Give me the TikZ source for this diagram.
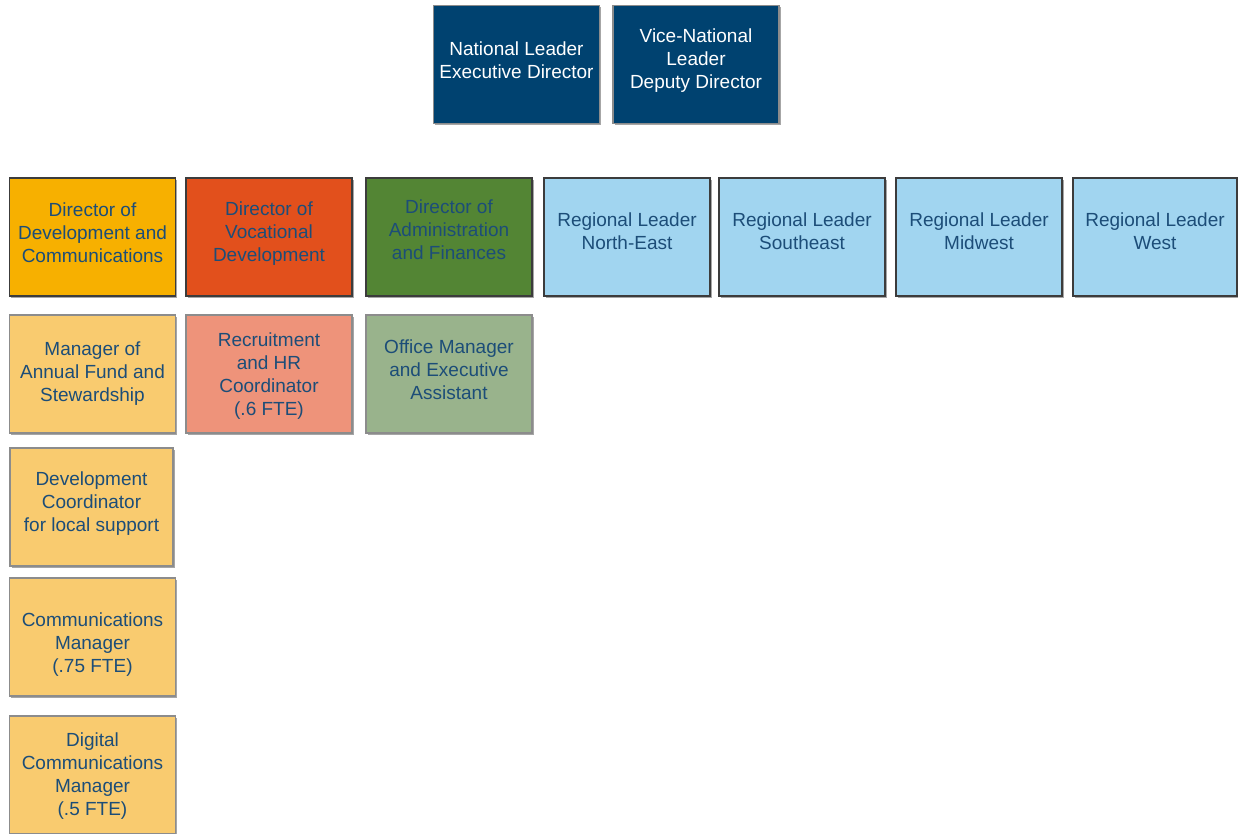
\documentclass[tikz,border=0pt]{standalone}
\usepackage{fontspec}
\setmainfont{Liberation Sans}
\usetikzlibrary{shadows}
\definecolor{navy}{HTML}{004270}
\definecolor{gold}{HTML}{F7B000}
\definecolor{rust}{HTML}{E2501C}
\definecolor{leaf}{HTML}{538534}
\definecolor{sky}{HTML}{A1D5F0}
\definecolor{paleyellow}{HTML}{F9CB6F}
\definecolor{salmon}{HTML}{EE937A}
\definecolor{sage}{HTML}{99B38C}
\definecolor{txtblue}{HTML}{1C4D78}
\definecolor{edgedark}{HTML}{3C3C3C}
\definecolor{edgelight}{HTML}{8C8C8C}
\tikzset{
  orgbox/.style={draw=edgedark, line width=1.3pt, minimum width=166pt, minimum height=118pt,
    inner sep=0pt,
    drop shadow={shadow xshift=1.5pt, shadow yshift=-1.5pt, opacity=0.35, fill=black}},
  topbox/.style={orgbox, fill=navy, draw=edgelight},
  subbox/.style={orgbox, draw=edgelight},
  lbl/.style={align=center, inner sep=0pt, text=txtblue, font=\fontsize{19}{23}\selectfont},
  toplbl/.style={lbl, text=white}
}
\begin{document}
\begin{tikzpicture}[x=1pt, y=-1pt]
\clip (0,0) rectangle (1238,833);
\fill[white] (0,0) rectangle (1238,833);
% top
\node[topbox] (nat) at (516.5,64.5) {};
\node[toplbl] (nat-t) at ([yshift=4pt]nat.center) {National Leader\\Executive Director};
\node[topbox] (vice) at (696,64.5) {};
\node[toplbl] (vice-t) at ([yshift=3.5pt]vice.center) {Vice-National\\Leader\\Deputy Director};
% row 1
\node[orgbox, fill=gold] (dc) at (92.5,237) {};
\node[lbl] (dc-t) at ([yshift=4.5pt]dc.center) {Director of\\Development and\\Communications};
\node[orgbox, fill=rust] (voc) at (269,237) {};
\node[lbl] (voc-t) at ([yshift=3pt]voc.center) {Director of\\Vocational\\Development};
\node[orgbox, fill=leaf] (adm) at (449,237) {};
\node[lbl] (adm-t) at ([yshift=7pt]adm.center) {Director of\\Administration\\and Finances};
\node[orgbox, fill=sky] (ne) at (627,237) {};
\node[lbl] (ne-t) at ([yshift=6pt]ne.center) {Regional Leader\\North-East};
\node[orgbox, fill=sky] (se) at (802,237) {};
\node[lbl] (se-t) at ([yshift=6pt]se.center) {Regional Leader\\Southeast};
\node[orgbox, fill=sky] (mw) at (979,237) {};
\node[lbl] (mw-t) at ([yshift=6pt]mw.center) {Regional Leader\\Midwest};
\node[orgbox, fill=sky, minimum width=164pt] (west) at (1155,237) {};
\node[lbl] (west-t) at ([yshift=6pt]west.center) {Regional Leader\\West};
% row 2
\node[subbox, fill=paleyellow] (mgr) at (92.5,374) {};
\node[lbl] (mgr-t) at ([yshift=0pt]mgr.center) {Manager of\\Annual Fund and\\Stewardship};
\node[subbox, fill=salmon] (rec) at (269,374) {};
\node[lbl] (rec-t) at ([yshift=-2pt]rec.center) {Recruitment\\and HR\\Coordinator\\(.6 FTE)};
\node[subbox, fill=sage] (off) at (449,374) {};
\node[lbl] (off-t) at ([yshift=4.5pt]off.center) {Office Manager\\and Executive\\Assistant};
% column 1
\node[subbox, fill=paleyellow, minimum width=163pt] (devc) at (91.5,507) {};
\node[lbl] (devc-t) at ([yshift=3.5pt]devc.center) {Development\\Coordinator\\for local support};
\node[subbox, fill=paleyellow] (comm) at (92.5,637) {};
\node[lbl] (comm-t) at ([yshift=-8pt]comm.center) {Communications\\Manager\\(.75 FTE)};
\node[subbox, fill=paleyellow] (dig) at (92.5,775) {};
\node[lbl] (dig-t) at ([yshift=-1pt]dig.center) {Digital\\Communications\\Manager\\(.5 FTE)};
\end{tikzpicture}
\end{document}
